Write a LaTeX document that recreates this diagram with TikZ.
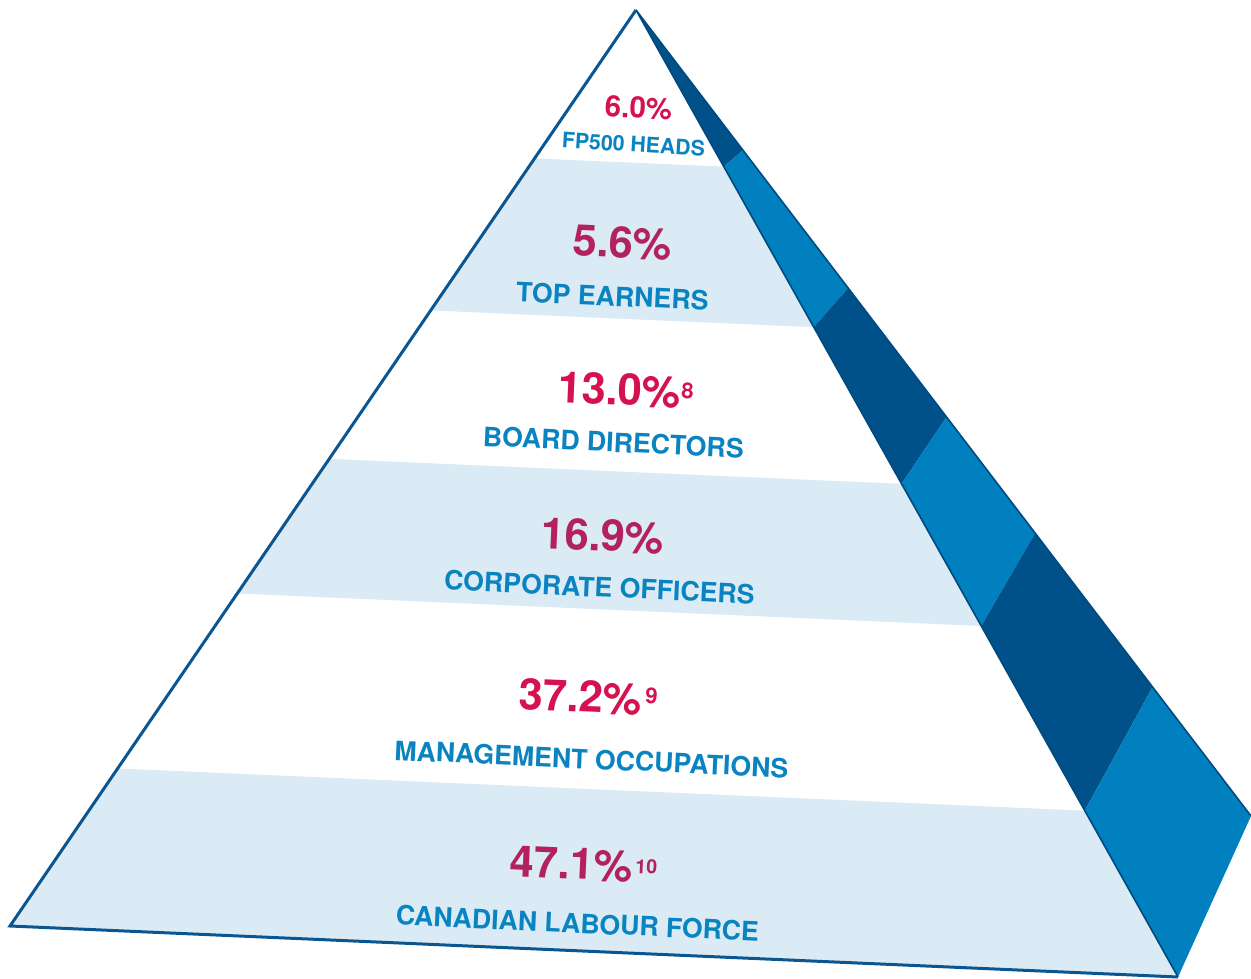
\documentclass[tikz,border=0pt]{standalone}
\usepackage{fontspec}
\setmainfont{TeX Gyre Heros}
\usetikzlibrary{calc}
\definecolor{edgeblue}{HTML}{0B5690}
\definecolor{darkface}{HTML}{00518A}
\definecolor{midface}{HTML}{0080BF}
\definecolor{shadeline}{HTML}{004A80}
\definecolor{bandblue}{HTML}{DAEBF5}
\definecolor{labelblue}{HTML}{0A84C1}
\definecolor{pctwhite}{HTML}{D5124F}
\definecolor{pctblue}{HTML}{B3225E}
\tikzset{
  bandfill/.style={fill=bandblue, draw=none},
  darkseg/.style={fill=darkface, draw=none},
  midseg/.style={fill=midface, draw=none},
  outline/.style={draw=edgeblue, line width=3pt, line join=miter},
  shadow/.style={draw=shadeline, line width=1.6pt},
  pct/.style={font=\fontsize{43.5}{43.5}\selectfont\bfseries, inner sep=0pt, anchor=base},
  toppct/.style={font=\fontsize{29.5}{29.5}\selectfont\bfseries, inner sep=0pt, anchor=base},
  sup/.style={font=\fontsize{22}{22}\selectfont\bfseries, inner sep=0pt, anchor=base west},
  lbl/.style={font=\fontsize{26.7}{26.7}\selectfont\bfseries, text=labelblue, inner sep=0pt, anchor=base},
  toplbl/.style={font=\fontsize{21.3}{21.3}\selectfont\bfseries, text=labelblue, inner sep=0pt, anchor=base}
}
\begin{document}
\begin{tikzpicture}[x=1pt,y=-1pt]
\useasboundingbox (0,0) rectangle (1251,979);
% corners of the pyramid
\coordinate (A) at (636,10);
\coordinate (L) at (10,926);
\coordinate (R) at (1178,977);
\coordinate (B) at (1251,816);
% band boundaries on the front face
\foreach \t [count=\i] in {0.162,0.328,0.490,0.637,0.828} {
  \coordinate (l\i) at ($(A)!\t!(L)$);
  \coordinate (r\i) at ($(A)!\t!(R)$);
}
% segment boundaries on the back edge of the side face
\foreach \t [count=\i] in {0.174,0.345,0.505,0.649,0.840} {
  \coordinate (b\i) at ($(A)!\t!(B)$);
}
% side face, alternating blues
\path[darkseg] (A) -- (r1) -- (b1) -- cycle;
\path[midseg] (r1) -- (r2) -- (b2) -- (b1) -- cycle;
\path[darkseg] (r2) -- (r3) -- (b3) -- (b2) -- cycle;
\path[midseg] (r3) -- (r4) -- (b4) -- (b3) -- cycle;
\path[darkseg] (r4) -- (r5) -- (b5) -- (b4) -- cycle;
\path[midseg] (r5) -- (R) -- (B) -- (b5) -- cycle;
\draw[shadow] (A) -- (B);
% tinted bands on the front face
\path[bandfill] (l1) -- (r1) -- (r2) -- (l2) -- cycle;
\path[bandfill] (l3) -- (r3) -- (r4) -- (l4) -- cycle;
\path[bandfill] (l5) -- (r5) -- (R) -- (L) -- cycle;
\draw[shadow] (A) -- (R);
\draw[outline] (R) -- (L) -- (A);
% labels
\node[toppct, text=pctwhite, rotate=-3] (p1) at (638,118) {6.0\%};
\node[toplbl, rotate=-3.5] (n1) at (633,152) {FP500 HEADS};
\node[pct, text=pctblue, rotate=-2.5] (p2) at (622,258) {5.6\%};
\node[lbl, rotate=-2.6] (n2) at (612,306) {TOP EARNERS};
\node[pct, text=pctwhite, rotate=-2.5] (p3) at (619,405) {13.0\%};
\node[sup, text=pctwhite, rotate=-2.5] (s3) at (681,398) {8};
\node[lbl, rotate=-2.6] (n3) at (613,452) {BOARD DIRECTORS};
\node[pct, text=pctblue, rotate=-2.5] (p4) at (602,551) {16.9\%};
\node[lbl, rotate=-2.6] (n4) at (599,597) {CORPORATE OFFICERS};
\node[pct, text=pctwhite, rotate=-2.5] (p5) at (580,712) {37.2\%};
\node[sup, text=pctwhite, rotate=-2.5] (s5) at (645,703) {9};
\node[lbl, rotate=-2.6] (n5) at (591,769) {MANAGEMENT OCCUPATIONS};
\node[pct, text=pctblue, rotate=-2.5] (p6) at (571,879) {47.1\%};
\node[sup, text=pctblue, rotate=-2.5, font=\fontsize{19.5}{19.5}\selectfont\bfseries] (s6) at (635,873) {10};
\node[lbl, rotate=-2.6] (n6) at (577,933) {CANADIAN LABOUR FORCE};
\end{tikzpicture}
\end{document}
